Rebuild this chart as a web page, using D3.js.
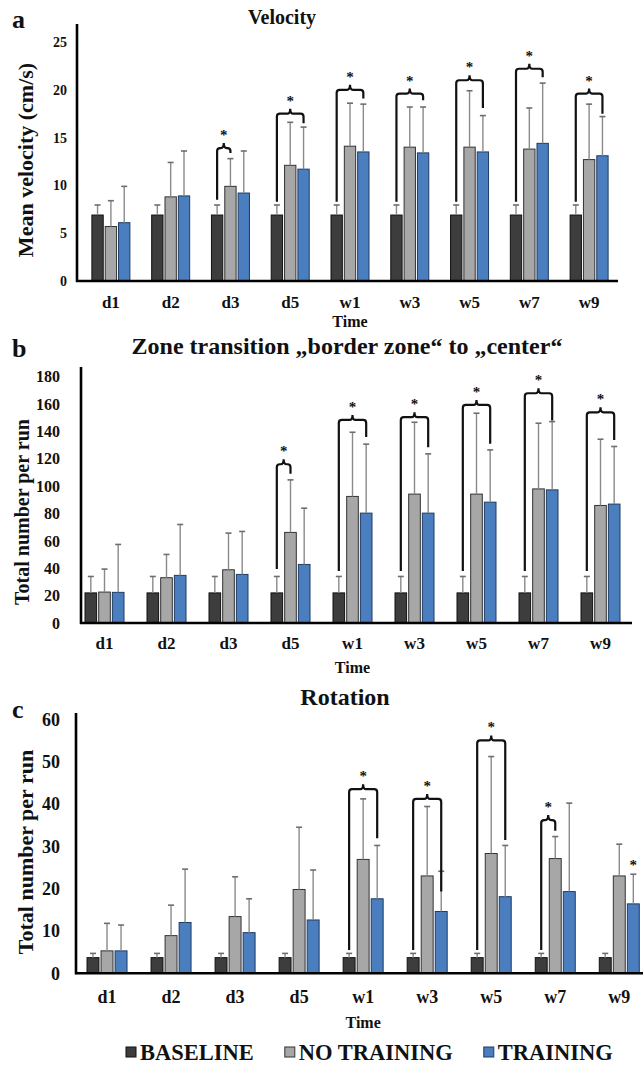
<!DOCTYPE html>
<html>
<head>
<meta charset="utf-8">
<script src="https://cdn.jsdelivr.net/npm/d3@7"></script>
<style>
  body { margin: 0; background: #fff; }
  svg text { font-family: "Liberation Serif", "Times New Roman", serif; font-weight: bold; fill: #111; }
</style>
</head>
<body>
<svg id="chart" width="643" height="1069"></svg>
<script>
// ---- data ----
var categories = ["d1", "d2", "d3", "d5", "w1", "w3", "w5", "w7", "w9"];
var groups = ["BASELINE", "NO TRAINING", "TRAINING"];

// a) velocity (cm/s): means and upper SD
var velBaseline   = [6.9, 6.9, 6.9, 6.9, 6.9, 6.9, 6.9, 6.9, 6.9];
var velNoTraining = [5.7, 8.8, 9.9, 12.1, 14.1, 14.0, 14.0, 13.8, 12.7];
var velTraining   = [6.1, 8.9, 9.2, 11.7, 13.5, 13.4, 13.5, 14.4, 13.1];
var velBaselineSd   = [1.05, 1.05, 1.05, 1.05, 1.05, 1.05, 1.05, 1.05, 1.05];
var velNoTrainingSd = [2.7, 3.6, 2.9, 4.5, 4.5, 4.2, 5.9, 4.3, 5.8];
var velTrainingSd   = [3.8, 4.7, 4.4, 4.4, 5.0, 4.8, 3.8, 6.3, 4.1];
var velTicks = [0, 5, 10, 15, 20, 25];
// significance brackets: from baseline bar to group "to", top level and leg ends (data units)
var velBrackets = [
  { cat: "d3", to: 1, top: 13.9, fromEnd: 8.5, toEnd: 13.4 },
  { cat: "d5", to: 2, top: 17.5, fromEnd: 8.3, toEnd: 16.5 },
  { cat: "w1", to: 2, top: 20.0, fromEnd: 8.3, toEnd: 19.1 },
  { cat: "w3", to: 2, top: 19.6, fromEnd: 8.3, toEnd: 18.9 },
  { cat: "w5", to: 2, top: 21.0, fromEnd: 8.3, toEnd: 18.1 },
  { cat: "w7", to: 2, top: 22.2, fromEnd: 8.3, toEnd: 21.3 },
  { cat: "w9", to: 2, top: 19.6, fromEnd: 8.3, toEnd: 17.5 }
];

// b) zone transitions
var zoneBaseline   = [22, 22, 22, 22, 22, 22, 22, 22, 22];
var zoneNoTraining = [22.6, 33.1, 38.9, 66.2, 92.5, 94.2, 94.2, 98.0, 85.9];
var zoneTraining   = [22.4, 34.8, 35.5, 42.8, 80.3, 80.3, 88.3, 97.3, 86.9];
var zoneBaselineSd   = [12, 12, 12, 12, 12, 12, 12, 12, 12];
var zoneNoTrainingSd = [16.8, 17.0, 26.8, 38.4, 46.9, 52.5, 59.1, 48.0, 48.4];
var zoneTrainingSd   = [35.0, 37.2, 31.4, 41.1, 50.4, 43.3, 38.2, 49.9, 42.1];
var zoneTicks = [0, 20, 40, 60, 80, 100, 120, 140, 160, 180];
var zoneBrackets = [
  { cat: "d5", to: 1, top: 116, fromEnd: 39.4, toEnd: 109 },
  { cat: "w1", to: 2, top: 148.4, fromEnd: 38, toEnd: 136 },
  { cat: "w3", to: 2, top: 150.4, fromEnd: 38, toEnd: 128.5 },
  { cat: "w5", to: 2, top: 159.4, fromEnd: 38, toEnd: 131 },
  { cat: "w7", to: 2, top: 167.9, fromEnd: 38, toEnd: 148 },
  { cat: "w9", to: 2, top: 154, fromEnd: 38, toEnd: 133.8 }
];

// c) rotations
var rotBaseline   = [3.7, 3.7, 3.7, 3.7, 3.7, 3.7, 3.7, 3.7, 3.7];
var rotNoTraining = [5.3, 8.9, 13.4, 19.8, 26.9, 23.0, 28.3, 27.1, 23.0];
var rotTraining   = [5.3, 12.0, 9.6, 12.6, 17.6, 14.6, 18.1, 19.3, 16.4];
var rotBaselineSd   = [1.0, 1.0, 1.0, 1.0, 1.0, 1.0, 1.0, 1.0, 1.0];
var rotNoTrainingSd = [6.5, 7.2, 9.4, 14.7, 14.3, 16.4, 22.9, 5.2, 7.5];
var rotTrainingSd   = [6.1, 12.6, 8.0, 11.8, 12.6, 9.5, 12.1, 20.9, 7.0];
var rotTicks = [0, 10, 20, 30, 40, 50, 60];
var rotBrackets = [
  { cat: "w1", to: 2, top: 43.5, fromEnd: 5.5, toEnd: 31.9 },
  { cat: "w3", to: 2, top: 41.2, fromEnd: 5.5, toEnd: 19.3 },
  { cat: "w5", to: 2, top: 55.0, fromEnd: 5.5, toEnd: 31.5 },
  { cat: "w7", to: 1, top: 36.2, fromEnd: 5.5, toEnd: 33.7 }
];
var rotStars = [{ cat: "w9", to: 2, at: 26.2 }];

var fills   = ["#3d3d3d", "#a7a7a7", "#4a7ebf"];
var strokes = ["#111", "#333", "#1e3b63"];

var svg = d3.select("#chart");

function drawPanel(p) {
  var g = svg.append("g");

  var x0 = d3.scaleBand().domain(categories).range(p.xRange);
  var x1 = d3.scaleBand().domain([0, 1, 2])
      .range([-p.groupW / 2, p.groupW / 2]).paddingInner(0.15);
  var y = d3.scaleLinear().domain([0, p.ticks[p.ticks.length - 1]]).range([p.y0, p.yTop]);

  function cx(cat, s) {
    return x0(cat) + x0.bandwidth() / 2 + x1(s) + x1.bandwidth() / 2;
  }

  var rows = [];
  categories.forEach(function(c, i) {
    p.means.forEach(function(m, s) {
      rows.push({ cat: c, s: s, v: m[i], sd: p.sds[s][i] });
    });
  });

  // bars
  g.selectAll(".bar").data(rows).enter().append("rect")
    .attr("class", "bar")
    .attr("x", function(d) { return cx(d.cat, d.s) - x1.bandwidth() / 2; })
    .attr("y", function(d) { return y(d.v); })
    .attr("width", x1.bandwidth())
    .attr("height", function(d) { return y(0) - y(d.v); })
    .attr("fill", function(d) { return fills[d.s]; })
    .attr("stroke", function(d) { return strokes[d.s]; })
    .attr("stroke-width", 1);

  // error bars (upper only)
  var err = g.selectAll(".err").data(rows).enter().append("g").attr("class", "err");
  err.append("line")
    .attr("x1", function(d) { return cx(d.cat, d.s); })
    .attr("x2", function(d) { return cx(d.cat, d.s); })
    .attr("y1", function(d) { return y(d.v); })
    .attr("y2", function(d) { return y(d.v + d.sd); })
    .attr("stroke", "#8a8a8a").attr("stroke-width", 1.4);
  err.append("line")
    .attr("x1", function(d) { return cx(d.cat, d.s) - 3; })
    .attr("x2", function(d) { return cx(d.cat, d.s) + 3; })
    .attr("y1", function(d) { return y(d.v + d.sd); })
    .attr("y2", function(d) { return y(d.v + d.sd); })
    .attr("stroke", "#6e6e6e").attr("stroke-width", 1.6);

  // significance brackets
  var r = 3, notch = 5;
  g.selectAll(".bracket").data(p.brackets).enter().append("path")
    .attr("class", "bracket")
    .attr("fill", "none").attr("stroke", "#111").attr("stroke-width", 2.2)
    .attr("d", function(b) {
      var xl = cx(b.cat, 0), xr = cx(b.cat, b.to), xm = (xl + xr) / 2, yt = y(b.top);
      return "M" + xl + "," + y(b.fromEnd) +
        "L" + xl + "," + (yt + r) +
        "Q" + xl + "," + yt + " " + (xl + r) + "," + yt +
        "L" + (xm - r) + "," + yt +
        "Q" + xm + "," + yt + " " + xm + "," + (yt - notch) +
        "Q" + xm + "," + yt + " " + (xm + r) + "," + yt +
        "L" + (xr - r) + "," + yt +
        "Q" + xr + "," + yt + " " + xr + "," + (yt + r) +
        "L" + xr + "," + y(b.toEnd);
    });
  g.selectAll(".star").data(p.brackets).enter().append("text")
    .attr("class", "star")
    .attr("x", function(b) { return (cx(b.cat, 0) + cx(b.cat, b.to)) / 2; })
    .attr("y", function(b) { return y(b.top) - notch - 3; })
    .attr("text-anchor", "middle")
    .style("font-size", "15px")
    .text("*");
  g.selectAll(".star2").data(p.stars || []).enter().append("text")
    .attr("x", function(b) { return cx(b.cat, b.to); })
    .attr("y", function(b) { return y(b.at) + 8; })
    .attr("text-anchor", "middle")
    .style("font-size", "15px")
    .text("*");

  // axes
  var yAxis = g.append("g").attr("transform", "translate(" + p.axisX + ",0)")
    .call(d3.axisLeft(y).tickValues(p.ticks).tickSize(0).tickPadding(p.yPad));
  yAxis.select(".domain").remove();
  yAxis.selectAll("text").style("font-size", p.tickFont + "px");

  var xAxis = g.append("g").attr("transform", "translate(0," + p.y0 + ")")
    .call(d3.axisBottom(x0).tickSize(0).tickPadding(p.xPad));
  xAxis.select(".domain").remove();
  xAxis.selectAll("text").style("font-size", p.catFont + "px");

  g.append("line")
    .attr("x1", p.axisX).attr("x2", p.axisX)
    .attr("y1", p.axisTop).attr("y2", p.y0 + 1)
    .attr("stroke", "#000").attr("stroke-width", 2.6);
  g.append("line")
    .attr("x1", p.axisX - 1).attr("x2", p.axisRight)
    .attr("y1", p.y0).attr("y2", p.y0)
    .attr("stroke", "#000").attr("stroke-width", 2.6);

  // texts
  g.append("text").attr("x", 12).attr("y", p.letterY)
    .style("font-size", "26px").text(p.letter);
  g.append("text").attr("x", p.titleX).attr("y", p.titleY)
    .attr("text-anchor", "middle").style("font-size", p.titleFont + "px").text(p.title);
  g.append("text")
    .attr("transform", "translate(" + p.yLabelX + "," + p.yLabelY + ") rotate(-90)")
    .attr("text-anchor", "middle").attr("dy", "0.35em")
    .style("font-size", p.yLabelFont + "px").text(p.yLabel);
  g.append("text").attr("x", (p.xRange[0] + p.xRange[1]) / 2).attr("y", p.timeY)
    .attr("text-anchor", "middle").style("font-size", "16px").text("Time");
}

drawPanel({
  letter: "a", letterY: 28, title: "Velocity", titleX: 282, titleY: 24, titleFont: 20,
  yLabel: "Mean velocity (cm/s)", yLabelX: 25, yLabelY: 160, yLabelFont: 22,
  means: [velBaseline, velNoTraining, velTraining],
  sds: [velBaselineSd, velNoTrainingSd, velTrainingSd],
  ticks: velTicks, brackets: velBrackets,
  xRange: [81, 619], groupW: 38, y0: 281, yTop: 42, axisTop: 24, axisX: 77, axisRight: 618,
  yPad: 10, tickFont: 14, xPad: 15, catFont: 17, timeY: 327
});

drawPanel({
  letter: "b", letterY: 357, title: "Zone transition \u201Eborder zone\u201C to \u201Ecenter\u201C",
  titleX: 347, titleY: 354, titleFont: 24,
  yLabel: "Total number per run", yLabelX: 22, yLabelY: 512, yLabelFont: 20,
  means: [zoneBaseline, zoneNoTraining, zoneTraining],
  sds: [zoneBaselineSd, zoneNoTrainingSd, zoneTrainingSd],
  ticks: zoneTicks, brackets: zoneBrackets,
  xRange: [73.5, 631.5], groupW: 39, y0: 623, yTop: 376.7, axisTop: 367, axisX: 81, axisRight: 632,
  yPad: 21, tickFont: 16, xPad: 14, catFont: 17, timeY: 673
});

drawPanel({
  letter: "c", letterY: 718, title: "Rotation", titleX: 345, titleY: 705, titleFont: 24,
  yLabel: "Total number per run", yLabelX: 25, yLabelY: 852, yLabelFont: 22,
  means: [rotBaseline, rotNoTraining, rotTraining],
  sds: [rotBaselineSd, rotNoTrainingSd, rotTrainingSd],
  ticks: rotTicks, brackets: rotBrackets, stars: rotStars,
  xRange: [75, 651.3], groupW: 40, y0: 973.3, yTop: 719.3, axisTop: 713, axisX: 76, axisRight: 643,
  yPad: 16, tickFont: 18, xPad: 17, catFont: 18, timeY: 1028
});

// legend
var legend = svg.append("g").attr("transform", "translate(0,1052)");
var lx = 126;
groups.forEach(function(name, i) {
  legend.append("rect").attr("x", lx).attr("y", -5).attr("width", 10).attr("height", 10)
    .attr("fill", fills[i]).attr("stroke", strokes[i]).attr("stroke-width", 1);
  var t = legend.append("text").attr("x", lx + 14).attr("y", 0).attr("dy", "0.35em")
    .style("font-size", "22.5px").text(name);
  lx += 14 + t.node().getComputedTextLength() + 31;
});
</script>
</body>
</html>
